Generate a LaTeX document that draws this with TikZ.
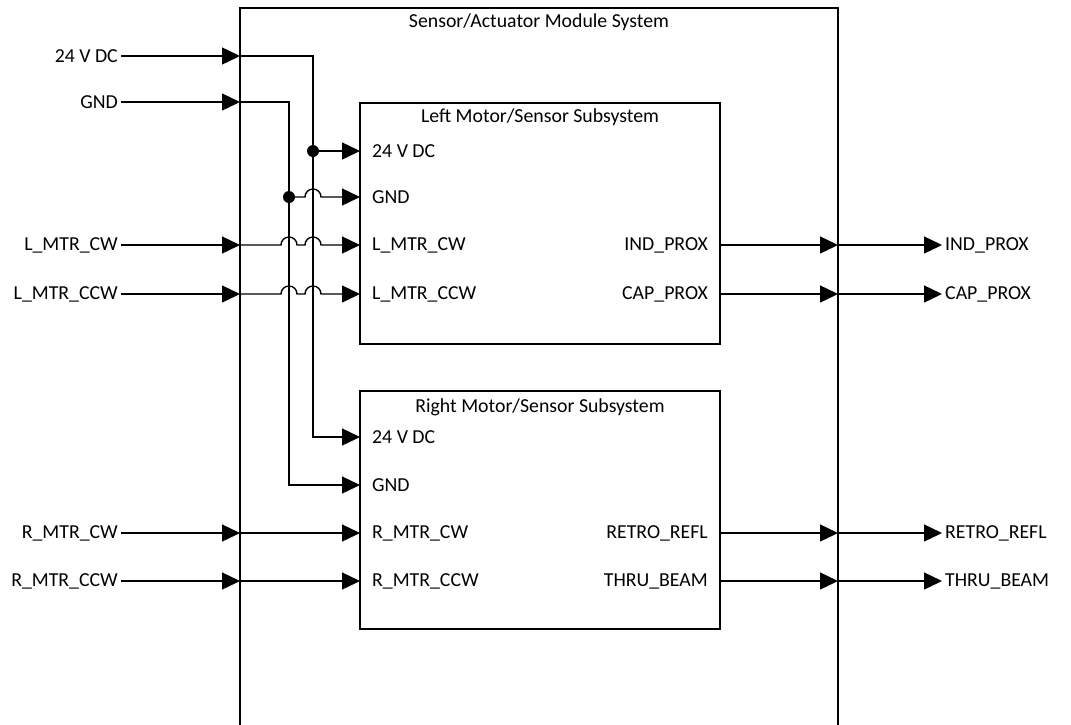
\documentclass[tikz,border=0pt]{standalone}
\usepackage{fontspec}
\setmainfont{Carlito}
\usetikzlibrary{arrows.meta}
\begin{document}
\begin{tikzpicture}[x=1pt,y=1pt,
  wire/.style={line width=1.4pt},
  sig/.style={wire,-{Triangle[length=18pt,width=17pt]}},
  lbl/.style={font=\fontsize{19.8}{23}\selectfont, inner sep=3pt},
  junction/.style={circle,fill,inner sep=0pt,minimum size=12pt}]
\useasboundingbox (0,0) rectangle (1071,-724);
\clip (0,0) rectangle (1071,-724);

% module and subsystem frames
\draw[wire] (240,-8) rectangle (838,-780);
\node[lbl] (systitle) at (539,-22) {Sensor/Actuator Module System};
\draw[wire] (360,-103) rectangle (720,-344);
\node[lbl] (lefttitle) at (540,-117) {Left Motor/Sensor Subsystem};
\draw[wire] (360,-391) rectangle (720,-629);
\node[lbl] (righttitle) at (540,-407) {Right Motor/Sensor Subsystem};

% external inputs
\node[lbl,anchor=east] (in24)   at (121,-56)  {24 V DC};
\node[lbl,anchor=east] (ingnd)  at (121,-102) {GND};
\node[lbl,anchor=east] (inlcw)  at (121,-245) {L\_MTR\_CW};
\node[lbl,anchor=east] (inlccw) at (121,-294) {L\_MTR\_CCW};
\node[lbl,anchor=east] (inrcw)  at (121,-533) {R\_MTR\_CW};
\node[lbl,anchor=east] (inrccw) at (121,-581) {R\_MTR\_CCW};

% boundary ports on the module frame (left)
\coordinate (b24)   at (240,-56);
\coordinate (bgnd)  at (240,-102);
\coordinate (blcw)  at (240,-245);
\coordinate (blccw) at (240,-294);
\coordinate (brcw)  at (240,-533);
\coordinate (brccw) at (240,-581);

% subsystem input ports and labels
\coordinate (l24)   at (360,-151);
\coordinate (lgnd)  at (360,-197);
\coordinate (llcw)  at (360,-245);
\coordinate (llccw) at (360,-294);
\coordinate (r24)   at (360,-437);
\coordinate (rgnd)  at (360,-485);
\coordinate (rrcw)  at (360,-533);
\coordinate (rrccw) at (360,-581);
\node[lbl,anchor=west] (t1) at (369,-151) {24 V DC};
\node[lbl,anchor=west] (t2) at (369,-197) {GND};
\node[lbl,anchor=west] (t3) at (369,-245) {L\_MTR\_CW};
\node[lbl,anchor=west] (t4) at (369,-294) {L\_MTR\_CCW};
\node[lbl,anchor=west] (t5) at (369,-437) {24 V DC};
\node[lbl,anchor=west] (t6) at (369,-485) {GND};
\node[lbl,anchor=west] (t7) at (369,-533) {R\_MTR\_CW};
\node[lbl,anchor=west] (t8) at (369,-581) {R\_MTR\_CCW};

% subsystem outputs
\coordinate (oind)   at (720,-245);
\coordinate (ocap)   at (720,-294);
\coordinate (oretro) at (720,-533);
\coordinate (othru)  at (720,-581);
\node[lbl,anchor=east] (t9)  at (711,-245) {IND\_PROX};
\node[lbl,anchor=east] (t10) at (711,-294) {CAP\_PROX};
\node[lbl,anchor=east] (t11) at (711,-533) {RETRO\_REFL};
\node[lbl,anchor=east] (t12) at (711,-581) {THRU\_BEAM};

\coordinate (bind)   at (838,-245);
\coordinate (bcap)   at (838,-294);
\coordinate (bretro) at (838,-533);
\coordinate (bthru)  at (838,-581);
\node[lbl,anchor=west] (outind)   at (942,-245) {IND\_PROX};
\node[lbl,anchor=west] (outcap)   at (942,-294) {CAP\_PROX};
\node[lbl,anchor=west] (outretro) at (942,-533) {RETRO\_REFL};
\node[lbl,anchor=west] (outthru)  at (942,-581) {THRU\_BEAM};

% junctions on the supply rails
\node[junction] (j24)  at (313,-151) {};
\node[junction] (jgnd) at (289,-197) {};

% inputs into the module
\foreach \a/\b in {in24/b24, ingnd/bgnd, inlcw/blcw, inlccw/blccw, inrcw/brcw, inrccw/brccw}
  \draw[sig] (\a.east) -- (\b);

% supply rails
\draw[sig] (b24) -| (j24.center) -- (313,-437) -- (r24);
\draw[sig] (bgnd) -| (jgnd.center) -- (289,-485) -- (rgnd);
\draw[sig] (j24.center) -- (l24);
\draw[sig] (jgnd.center) -- (305,-197) arc[start angle=180,end angle=0,radius=8] -- (lgnd);

% motor commands, hopping over the rails
\draw[sig] (blcw) -- (281,-245) arc[start angle=180,end angle=0,radius=8]
  -- (305,-245) arc[start angle=180,end angle=0,radius=8] -- (llcw);
\draw[sig] (blccw) -- (281,-294) arc[start angle=180,end angle=0,radius=8]
  -- (305,-294) arc[start angle=180,end angle=0,radius=8] -- (llccw);
\draw[sig] (brcw) -- (rrcw);
\draw[sig] (brccw) -- (rrccw);

% sensor outputs
\draw[sig] (oind) -- (bind);
\draw[sig] (ocap) -- (bcap);
\draw[sig] (oretro) -- (bretro);
\draw[sig] (othru) -- (bthru);
\draw[sig] (bind) -- (outind.west);
\draw[sig] (bcap) -- (outcap.west);
\draw[sig] (bretro) -- (outretro.west);
\draw[sig] (bthru) -- (outthru.west);
\end{tikzpicture}
\end{document}
